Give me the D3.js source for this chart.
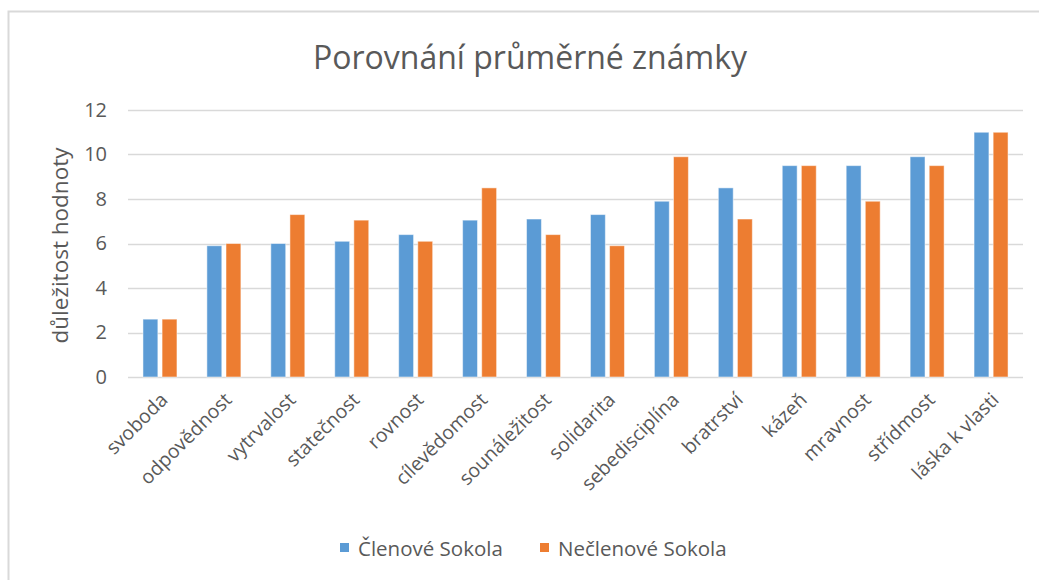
<!DOCTYPE html>
<html>
<head>
<meta charset="utf-8">
<script src="https://cdn.jsdelivr.net/npm/d3@7"></script>
<style>
  body { margin: 0; background: #fff; }
  svg text { font-family: "Open Sans", "Noto Sans", sans-serif; fill: #595959; }
</style>
</head>
<body>
<div id="chart"></div>
<script>
// values
const categories = ['svoboda', 'odpovědnost', 'vytrvalost', 'statečnost', 'rovnost',
  'cílevědomost', 'sounáležitost', 'solidarita', 'sebedisciplína', 'bratrství',
  'kázeň', 'mravnost', 'střídmost', 'láska k vlasti'];
const seriesNames = ['Členové Sokola', 'Nečlenové Sokola'];
const clenove = [2.6, 5.9, 6.0, 6.1, 6.4, 7.05, 7.1, 7.3, 7.9, 8.5, 9.5, 9.5, 9.9, 11];
const neclenove = [2.6, 6.0, 7.3, 7.05, 6.1, 8.5, 6.4, 5.9, 9.9, 7.1, 9.5, 7.9, 9.5, 11];
const yTicks = [0, 2, 4, 6, 8, 10, 12];
const colors = ['#5B9BD5', '#ED7D31'];

const W = 1039, H = 580;
const margin = { top: 110, left: 128, right: 16, bottom: 203 };
const width = W - margin.left - margin.right;
const height = H - margin.top - margin.bottom;

const svg = d3.select('#chart').append('svg')
  .attr('width', W).attr('height', H);

// chart frame (only top/left visible in the crop)
svg.append('rect')
  .attr('x', 8.5).attr('y', 11.5)
  .attr('width', W + 10).attr('height', H + 10)
  .attr('fill', 'none').attr('stroke', '#d9d9d9').attr('stroke-width', 2);

const g = svg.append('g').attr('transform', `translate(${margin.left},${margin.top})`);

const x = d3.scaleBand().domain(categories).range([0, width]);
const x1 = d3.scaleBand().domain(seriesNames).range([x.bandwidth() / 2 - 17, x.bandwidth() / 2 + 17]).paddingInner(0.22);
const y = d3.scaleLinear().domain([0, 12]).range([height, 0]);

// gridlines
g.append('g').selectAll('line').data(yTicks).join('line')
  .attr('x1', 0).attr('x2', width)
  .attr('y1', d => Math.round(y(d)) + 0.5).attr('y2', d => Math.round(y(d)) + 0.5)
  .attr('stroke', '#d9d9d9').attr('stroke-width', 1.5);

// y tick labels
const yAxis = g.append('g').call(d3.axisLeft(y).tickValues(yTicks).tickSize(0).tickPadding(21));
yAxis.select('.domain').remove();
yAxis.selectAll('text').attr('font-size', 20).attr('fill', '#595959')
  .style('font-family', '"Open Sans", sans-serif');

// bars
const rows = categories.map((c, i) => ({ cat: c, vals: [clenove[i], neclenove[i]] }));
g.append('g').selectAll('g').data(rows).join('g')
  .attr('transform', d => `translate(${x(d.cat)},0)`)
  .selectAll('rect').data(d => d.vals.map((v, k) => ({ name: seriesNames[k], v, k })))
  .join('rect')
  .attr('x', d => x1(d.name))
  .attr('width', x1.bandwidth())
  .attr('y', d => y(d.v))
  .attr('height', d => y(0) - y(d.v))
  .attr('fill', d => colors[d.k])
  .attr('stroke', '#fff').attr('stroke-opacity', 0.5).attr('stroke-width', 1);

// x labels, rotated
const xAxis = g.append('g').attr('transform', `translate(0,${height})`)
  .call(d3.axisBottom(x).tickSize(0).tickPadding(0));
xAxis.select('.domain').remove();
xAxis.selectAll('text')
  .attr('font-size', 19.5)
  .style('font-family', '"Open Sans", sans-serif')
  .attr('text-anchor', 'end')
  .attr('dy', 0)
  .attr('transform', 'translate(9,24) rotate(-45)');

// title
svg.append('text')
  .attr('x', 530).attr('y', 69)
  .attr('text-anchor', 'middle')
  .attr('font-size', 32)
  .text('Porovnání průměrné známky');

// y axis title
svg.append('text')
  .attr('transform', `translate(68,${margin.top + height / 2 + 2}) rotate(-90)`)
  .attr('text-anchor', 'middle')
  .attr('font-size', 22.5)
  .text('důležitost hodnoty');

// legend
const legendX = [340, 540];
const legend = svg.append('g').selectAll('g').data(seriesNames).join('g')
  .attr('transform', (d, i) => `translate(${legendX[i]},548)`);
legend.append('rect').attr('x', 0).attr('y', -5).attr('width', 9).attr('height', 9)
  .attr('fill', (d, i) => colors[i]);
legend.append('text').attr('x', 18).attr('y', 7.5).attr('font-size', 20.5).text(d => d);
</script>
</body>
</html>
